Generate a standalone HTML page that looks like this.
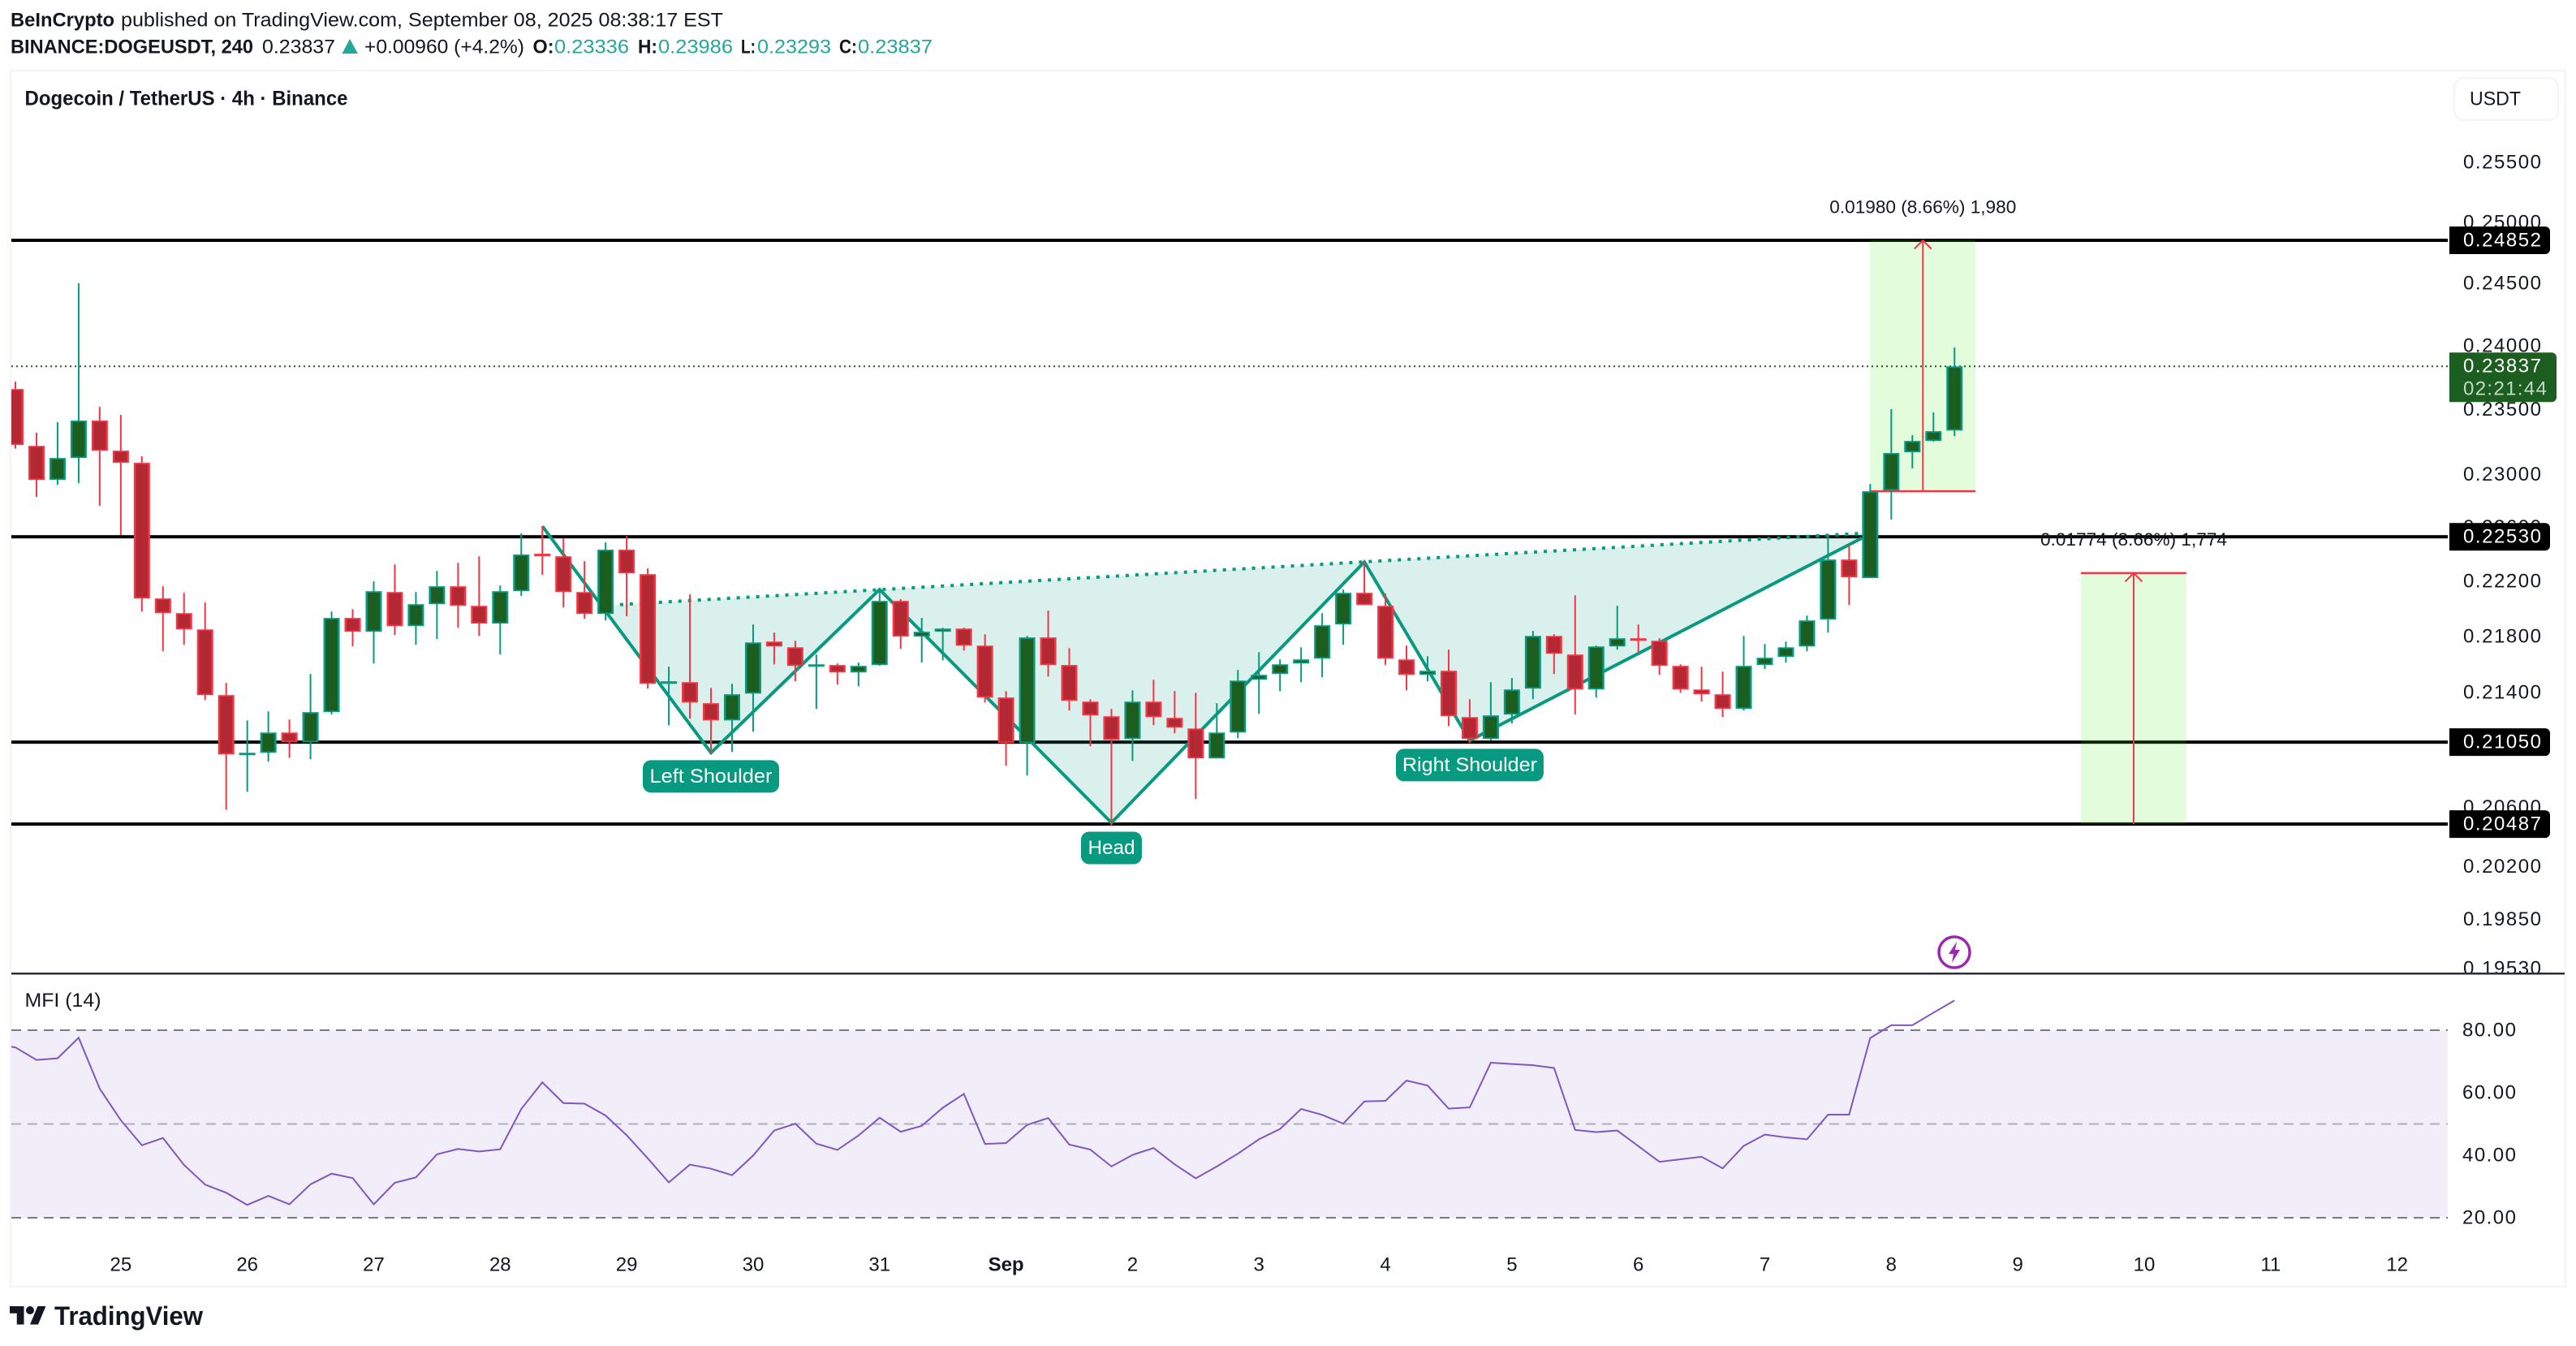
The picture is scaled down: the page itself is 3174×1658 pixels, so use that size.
<!DOCTYPE html>
<html lang="en">
<head>
<meta charset="utf-8">
<title>DOGEUSDT 4h chart</title>
<style>
html,body{margin:0;padding:0;background:#fff;width:3174px;height:1658px;overflow:hidden}
svg{display:block;font-family:"Liberation Sans",Arial,sans-serif}
text{fill:#131722}
</style>
</head>
<body>
<svg id="chart" xmlns="http://www.w3.org/2000/svg" width="3174" height="1658" viewBox="0 0 3174 1658">
  <defs>
    <clipPath id="mainClip"><rect x="14" y="88" width="3002" height="1110"/></clipPath>
    <clipPath id="axisClip"><rect x="3018" y="150" width="142" height="1048"/></clipPath>
    <clipPath id="mfiClip"><rect x="14" y="1200" width="3002" height="320"/></clipPath>
  </defs>
  <rect x="0" y="0" width="3174" height="1658" fill="#ffffff"/>

  <g font-size="24">
    <text x="13" y="25" dominant-baseline="central" font-weight="700" textLength="128" lengthAdjust="spacingAndGlyphs">BeInCrypto</text>
    <text x="149" y="25" dominant-baseline="central" textLength="742" lengthAdjust="spacingAndGlyphs">published on TradingView.com, September 08, 2025 08:38:17 EST</text>
    <text x="13" y="58" dominant-baseline="central" font-weight="700" textLength="299" lengthAdjust="spacingAndGlyphs">BINANCE:DOGEUSDT, 240</text>
    <text x="323" y="58" dominant-baseline="central" textLength="90" lengthAdjust="spacingAndGlyphs">0.23837</text>
    <polygon points="421.5,66 431,48 441,66" fill="#26a69a"/>
    <text x="449" y="58" dominant-baseline="central" textLength="197" lengthAdjust="spacingAndGlyphs">+0.00960 (+4.2%)</text>
    <text x="656.5" y="58" dominant-baseline="central" font-weight="700" textLength="26" lengthAdjust="spacingAndGlyphs">O:</text>
    <text x="683" y="58" dominant-baseline="central" style="fill:#26a69a" textLength="92" lengthAdjust="spacingAndGlyphs">0.23336</text>
    <text x="786" y="58" dominant-baseline="central" font-weight="700" textLength="24" lengthAdjust="spacingAndGlyphs">H:</text>
    <text x="811" y="58" dominant-baseline="central" style="fill:#26a69a" textLength="92" lengthAdjust="spacingAndGlyphs">0.23986</text>
    <text x="913" y="58" dominant-baseline="central" font-weight="700" textLength="18" lengthAdjust="spacingAndGlyphs">L:</text>
    <text x="933" y="58" dominant-baseline="central" style="fill:#26a69a" textLength="91" lengthAdjust="spacingAndGlyphs">0.23293</text>
    <text x="1034" y="58" dominant-baseline="central" font-weight="700" textLength="22" lengthAdjust="spacingAndGlyphs">C:</text>
    <text x="1057" y="58" dominant-baseline="central" style="fill:#26a69a" textLength="92" lengthAdjust="spacingAndGlyphs">0.23837</text>
  </g>

  <rect x="13" y="87" width="3148" height="1498" fill="#ffffff" stroke="#f0f3fa" stroke-width="2"/>

  <g id="mfiBand"></g>
  <g id="mainPane" clip-path="url(#mainClip)"></g>
  <g id="priceAxis" clip-path="url(#axisClip)" font-size="24"></g>
  <g id="priceTags" font-size="24"></g>

  <rect x="14" y="1198" width="3146" height="2.5" fill="#2a2e39"/>

  <text x="30.5" y="121.5" dominant-baseline="central" font-size="25" font-weight="700" textLength="398" lengthAdjust="spacingAndGlyphs">Dogecoin / TetherUS · 4h · Binance</text>

  <g>
    <rect x="3024" y="96" width="128" height="52" rx="12" fill="#ffffff" stroke="#f0f3fa" stroke-width="2"/>
    <text x="3043" y="122" dominant-baseline="central" font-size="24" textLength="63" lengthAdjust="spacingAndGlyphs">USDT</text>
  </g>

  <g>
    <circle cx="2408" cy="1173" r="19" fill="#ffffff" stroke="#9c27b0" stroke-width="3.5"/>
    <polygon points="2411,1160 2401,1175 2407,1175 2405,1186 2415,1170 2409,1170" fill="#9c27b0"/>
  </g>

  <text x="30.5" y="1232.5" dominant-baseline="central" font-size="24" textLength="94" lengthAdjust="spacingAndGlyphs">MFI (14)</text>

  <g id="timeAxis" font-size="24"></g>

  <g>
    <path transform="translate(12,1604) scale(1.25)" d="M14 22H7V11H0V4h14v18zM28 22h-8l7.5-18h8L28 22z" fill="#131722"/>
    <circle cx="37" cy="1614" r="5" fill="#131722"/>
    <text x="67" y="1621" dominant-baseline="central" font-size="32" font-weight="700" textLength="183" lengthAdjust="spacingAndGlyphs">TradingView</text>
  </g>
</svg>

<script>
// ---------- candle data ----------
const opens = [.23659,.23218,.22958,.23125,.23413,.23181,.23088,.22075,.21968,.21850,.21380,.20965,.20976,.21117,.21049,.21260,.21933,.21833,.22122,.21874,.22033,.22164,.22021,.21892,.22128,.22404,.22385,.22122,.21962,.22434,.22253,.21460,.21472,.21323,.21202,.21391,.21762,.21721,.21588,.21594,.21541,.21594,.22057,.21798,.21833,.21856,.21733,.21363,.21044,.21792,.21594,.21334,.21231,.21072,.21334,.21220,.21145,.20937,.21117,.21489,.21530,.21605,.21640,.21886,.22116,.22021,.21634,.21524,.21553,.21225,.21072,.21243,.21426,.21803,.21669,.21420,.21727,.21786,.21768,.21588,.21420,.21386,.21283,.21594,.21652,.21727,.21921,.22361,.22224,.22878,.23169,.23256,.23336];
const highs = [.23716,.23319,.23401,.24500,.23520,.23457,.23138,.22164,.22116,.22045,.21466,.21202,.21265,.21208,.21530,.21980,.21997,.22200,.22325,.22122,.22277,.22337,.22385,.22170,.22555,.22609,.22518,.22349,.22488,.22536,.22295,.21582,.22104,.21431,.21460,.21886,.21827,.21768,.21669,.21605,.21611,.22128,.22069,.21933,.21862,.21862,.21815,.21408,.21803,.21986,.21715,.21351,.21283,.21414,.21489,.21408,.21397,.21323,.21559,.21686,.21634,.21721,.21968,.22140,.22349,.22110,.21733,.21657,.21704,.21351,.21472,.21501,.21839,.21815,.22098,.21733,.22021,.21886,.21786,.21599,.21582,.21547,.21803,.21745,.21762,.21950,.22549,.22464,.22927,.23502,.23300,.23476,.23986];
const lows = [.23197,.22829,.22921,.22933,.22762,.22542,.21980,.21692,.21739,.21345,.20585,.20707,.20914,.20942,.20931,.21243,.21727,.21605,.21809,.21739,.21780,.21862,.21803,.21669,.22093,.22247,.22009,.21927,.21915,.21945,.21426,.21168,.21214,.20976,.20982,.21123,.21599,.21478,.21283,.21454,.21443,.21588,.21710,.21611,.21628,.21698,.21328,.20886,.20819,.21512,.21271,.21021,.20474,.20920,.21168,.21112,.20657,.20937,.21078,.21248,.21408,.21472,.21507,.21739,.22027,.21594,.21414,.21478,.21162,.21044,.21061,.21180,.21351,.21530,.21243,.21363,.21704,.21686,.21524,.21397,.21334,.21225,.21271,.21565,.21611,.21692,.21827,.22027,.22224,.22659,.23045,.23250,.23293];
const closes = [.23225,.22958,.23125,.23413,.23181,.23088,.22075,.21968,.21850,.21380,.20965,.20976,.21117,.21049,.21260,.21933,.21833,.22128,.21874,.22033,.22164,.22021,.21892,.22128,.22398,.22391,.22122,.21962,.22434,.22259,.21460,.21478,.21328,.21202,.21386,.21756,.21727,.21588,.21599,.21541,.21588,.22057,.21798,.21833,.21856,.21733,.21363,.21044,.21792,.21594,.21340,.21237,.21066,.21334,.21225,.21151,.20937,.21117,.21483,.21524,.21599,.21634,.21880,.22116,.22027,.21640,.21524,.21553,.21231,.21072,.21237,.21420,.21803,.21675,.21420,.21727,.21786,.21768,.21588,.21420,.21386,.21283,.21588,.21646,.21721,.21915,.22361,.22230,.22872,.23163,.23256,.23331,.23837];

// MFI values; the first value belongs to the bar just left of the visible range
const mfiValues = [75.5,74.5,70.5,71.0,77.6,61.3,51.2,43.2,45.5,36.9,30.6,28.0,24.1,27.0,24.3,30.7,34.1,32.7,24.3,31.2,32.9,40.3,42.0,41.2,41.9,54.8,63.3,56.7,56.5,52.7,46.4,39.0,31.3,37.0,35.7,33.6,39.9,47.9,50.1,43.7,41.7,46.3,52.0,47.5,49.4,55.2,59.6,43.6,43.9,49.7,51.9,43.4,41.8,36.4,40.1,42.3,37.1,32.6,36.4,40.5,45.1,48.4,54.8,52.9,50.1,57.2,57.4,63.9,62.3,54.9,55.3,69.6,69.2,68.8,67.9,48.1,47.4,47.9,42.9,37.9,38.7,39.5,35.8,43.0,46.6,45.7,45.1,53.0,53.0,77.5,81.6,81.6,85.6,89.5];

// ---------- axis labels and levels ----------
const priceTicks = [.255,.25,.245,.24,.235,.23,.226,.222,.218,.214,.21,.206,.202,.1985,.1953];
const levelPrices = [.24852,.2253,.2105,.20487];
const lastPrice = 0.23837;
const countdownText = '02:21:44';
const mfiTicks = [80,60,40,20];
const mfiBandLevels = [80,50,20];
const dayLabels = ['25','26','27','28','29','30','31','Sep','2','3','4','5','6','7','8','9','10','11','12'];
const firstDayBar = 5;
const barsPerDay = 6;

// ---------- head & shoulders pattern (bar index / price) ----------
const patternBars = [25,33,41,52,64,69,87.6];
const patternPrices = [.22609,.20976,.2214,.20496,.22343,.21061,.2252];
const necklineBars = [27.76,87.6];
const necklinePrices = [.22022,.22556];
const patternLabels = ['Left Shoulder','Head','Right Shoulder'];
const labelBars = [33,52,69];
const labelPrices = [.20813,.20326,.20891];

// ---------- measure tools ----------
const measureStartBars = [88,98];
const measureEndBars = [93,103];
const measureFromPrices = [.22872,.20487];
const measureToPrices = [.24852,.22261];
const measureTexts = ['0.01980 (8.66%) 1,980','0.01774 (8.66%) 1,774'];

// ---------- axis functions ----------
const NS = 'http://www.w3.org/2000/svg';
function xBar(i){ return 19 + 25.97 * i; }
function yPrice(p){ return 296 + Math.log(0.24852 / p) / 0.0002686; }
function yMfi(v){ return 1269 + (80 - v) * 3.85; }
function make(tag, attrs, parent){
  const el = document.createElementNS(NS, tag);
  for (const k in attrs) el.setAttribute(k, attrs[k]);
  parent.appendChild(el);
  return el;
}
const mainPane = document.getElementById('mainPane');
const priceAxis = document.getElementById('priceAxis');
const priceTags = document.getElementById('priceTags');
const mfiBand = document.getElementById('mfiBand');
const timeAxis = document.getElementById('timeAxis');

// level lines
levelPrices.forEach(function(p){
  const line = make('rect', {x:14, y:yPrice(p)-2, width:3002, height:4, fill:'#000000'}, mainPane);
  
  
});

// measure tool boxes
measureStartBars.forEach(function(b, k){
  const x0 = xBar(b), x1 = xBar(measureEndBars[k]);
  const yFrom = yPrice(measureFromPrices[k]), yTo = yPrice(measureToPrices[k]);
  const box = make('rect', {x:x0, y:yTo, width:x1-x0, height:yFrom-yTo, fill:'rgba(61,238,23,0.15)'}, mainPane);
  
  
  const cap = make('rect', {x:x0, y:(k===0?yFrom:yTo)-1.25, width:x1-x0, height:2.5, fill:'#f23645'}, mainPane);
  
  
  const xm = (x0 + x1) / 2;
  const shaft = make('line', {x1:xm, y1:yFrom, x2:xm, y2:yTo, stroke:'#f23645', 'stroke-width':2}, mainPane);
  
  
  const head = make('polyline', {points:(xm-10.5)+','+(yTo+10.5)+' '+xm+','+yTo+' '+(xm+10.5)+','+(yTo+10.5), fill:'none', stroke:'#f23645', 'stroke-width':2}, mainPane);
  
  
  const tY = k === 0 ? yTo - 41 : 664.5;
  const t = make('text', {x:xm, y:tY, 'text-anchor':'middle', 'dominant-baseline':'central', 'font-size':22, textLength:230, lengthAdjust:'spacingAndGlyphs'}, mainPane);
  t.textContent = measureTexts[k];
  
  
});

// last price dotted line
const lastLine = make('line', {x1:14, y1:yPrice(lastPrice), x2:3016, y2:yPrice(lastPrice), stroke:'#1b5e20', 'stroke-width':2, 'stroke-dasharray':'2 4'}, mainPane);



// pattern
const patternPts = patternBars.map(function(b, i){ return xBar(b) + ',' + yPrice(patternPrices[i]); });
const neckStart = xBar(necklineBars[0]) + ',' + yPrice(necklinePrices[0]);
const neckEnd = xBar(necklineBars[1]) + ',' + yPrice(necklinePrices[1]);
const patternFill = make('polygon', {points:[neckStart].concat(patternPts.slice(1), [neckEnd]).join(' '), fill:'rgba(8,153,129,0.15)'}, mainPane);


const neckLine = make('line', {x1:xBar(necklineBars[0]), y1:yPrice(necklinePrices[0]), x2:xBar(necklineBars[1]), y2:yPrice(necklinePrices[1]), stroke:'#089981', 'stroke-width':4, 'stroke-dasharray':'4 8'}, mainPane);


const patternLine = make('polyline', {points:patternPts.join(' '), fill:'none', stroke:'#089981', 'stroke-width':4, 'stroke-linejoin':'miter'}, mainPane);



// candles
opens.forEach(function(o, i){
  const c = closes[i], up = c >= o;
  const edge = up ? '#089981' : '#f23645';
  const fill = up ? '#1b5e20' : '#b22833';
  const x = xBar(i);
  const g = make('g', {}, mainPane);
  
  
  const top = yPrice(Math.max(o, c)), bottom = yPrice(Math.min(o, c));
  const wick = make('rect', {x:x-1, y:yPrice(highs[i]), width:2, height:yPrice(lows[i])-yPrice(highs[i]), fill:edge}, g);
  
  
  const h = Math.max(bottom - top, 3);
  const outer = make('rect', {x:x-10, y:top, width:20, height:h, fill:edge}, g);
  
  
  if (h > 3.5) {
    const inner = make('rect', {x:x-7.5, y:top+1.75, width:15, height:h-3.5, fill:fill}, g);
    
    
  }
});

// pattern labels
const labelBoxWidths = [168, 75, 182];
const labelTextWidths = [151, 58, 166];
patternLabels.forEach(function(txt, k){
  const cx = xBar(labelBars[k]), cy = yPrice(labelPrices[k]);
  const r = make('rect', {x:cx-labelBoxWidths[k]/2, y:cy-20, width:labelBoxWidths[k], height:40, rx:10, fill:'#089981'}, mainPane);
  
  
  const t = make('text', {x:cx, y:cy, 'text-anchor':'middle', 'dominant-baseline':'central', 'font-size':24, textLength:labelTextWidths[k], lengthAdjust:'spacingAndGlyphs', style:'fill:#ffffff'}, mainPane);
  t.textContent = txt;
  
  
});

// price axis ticks
priceTicks.forEach(function(p){
  const t = make('text', {x:3035, y:yPrice(p), 'dominant-baseline':'central', textLength:96, lengthAdjust:'spacing'}, priceAxis);
  t.textContent = p.toFixed(5);
  
  
});

// level price tags
levelPrices.forEach(function(p){
  const y = yPrice(p);
  const r = make('path', {d:'M3018 '+(y-17)+'H3136a6 6 0 0 1 6 6V'+(y+11)+'a6 6 0 0 1 -6 6H3018Z', fill:'#000000'}, priceTags);
  
  
  const t = make('text', {x:3035, y:y, 'dominant-baseline':'central', textLength:96, lengthAdjust:'spacing', style:'fill:#ffffff'}, priceTags);
  t.textContent = p.toFixed(5);
  
  
});

// last price tag
const yLast = yPrice(lastPrice);
const lastTag = make('path', {d:'M3018 '+(yLast-17)+'H3144a6 6 0 0 1 6 6V'+(yLast+38)+'a6 6 0 0 1 -6 6H3018Z', fill:'#1b5e20'}, priceTags);


const lastTxt = make('text', {x:3035, y:yLast, 'dominant-baseline':'central', textLength:96, lengthAdjust:'spacing', style:'fill:#ffffff'}, priceTags);
lastTxt.textContent = lastPrice.toFixed(5);


const cdTxt = make('text', {x:3035, y:yLast+28, 'dominant-baseline':'central', textLength:103, lengthAdjust:'spacing', style:'fill:#c6d7c7'}, priceTags);
cdTxt.textContent = countdownText;



// MFI pane
const band = make('rect', {x:14, y:yMfi(80), width:3002, height:yMfi(20)-yMfi(80), fill:'rgba(126,87,194,0.1)'}, mfiBand);


mfiBandLevels.forEach(function(v){
  const l = make('line', {x1:14, y1:yMfi(v), x2:3016, y2:yMfi(v), stroke:v===50?'rgba(120,123,134,0.55)':'#787b86', 'stroke-width':2, 'stroke-dasharray':'12 8'}, mfiBand);
  
  
});
const mfiLine = make('polyline', {points:mfiValues.map(function(v, i){ return xBar(i-1) + ',' + yMfi(v); }).join(' '), fill:'none', stroke:'#7e57c2', 'stroke-width':2, 'clip-path':'url(#mfiClip)'}, mfiBand);


mfiTicks.forEach(function(v){
  const t = make('text', {x:3034, y:yMfi(v), 'dominant-baseline':'central', 'font-size':24, textLength:66, lengthAdjust:'spacing'}, mfiBand);
  t.textContent = v.toFixed(2);
  
  
});

// time axis
dayLabels.forEach(function(d, k){
  const isMonth = d === 'Sep';
  const t = make('text', {x:xBar(firstDayBar + k * barsPerDay), y:1558, 'text-anchor':'middle', 'dominant-baseline':'central', 'font-weight':isMonth?700:400}, timeAxis);
  t.textContent = d;
  
  
});
</script>
</body>
</html>
